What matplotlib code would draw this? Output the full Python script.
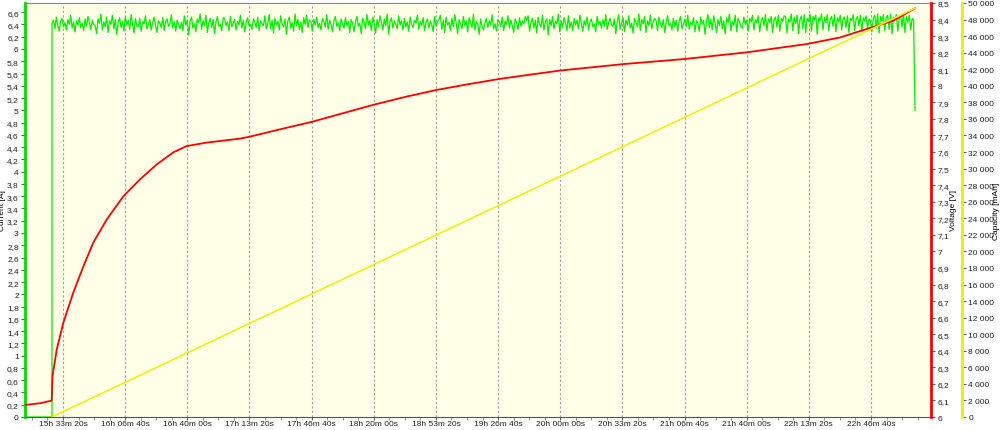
import matplotlib
matplotlib.use("Agg")
import matplotlib.pyplot as plt
from matplotlib.ticker import MultipleLocator, FuncFormatter

# time axis in seconds since midnight
x_start = 54777
x_end = 83932
charge_start = 55646
charge_end = 83418

# current samples during the charge [A]
current_samples = [
    6.41, 6.47, 6.33, 6.52, 6.38, 6.29, 6.45, 6.50, 6.36, 6.43, 6.31, 6.48, 6.40, 6.55, 6.34, 6.44, 6.28, 6.46, 6.39, 6.51, 6.35, 6.42, 6.30, 6.49, 6.37, 6.53, 6.44, 6.32, 6.47, 6.40,
    6.38, 6.25, 6.49, 6.42, 6.57, 6.31, 6.44, 6.36, 6.52, 6.27, 6.46, 6.40, 6.55, 6.33, 6.48, 6.24, 6.43, 6.51, 6.35, 6.45, 6.29, 6.53, 6.39, 6.47, 6.32, 6.56, 6.41, 6.26, 6.50, 6.37,
    6.36, 6.50, 6.29, 6.45, 6.41, 6.54, 6.33, 6.39, 6.48, 6.31, 6.43, 6.52, 6.38, 6.27, 6.46, 6.42, 6.35, 6.51, 6.30, 6.44, 6.49, 6.37, 6.41, 6.56, 6.34, 6.45, 6.29, 6.47, 6.40, 6.33,
    6.44, 6.30, 6.54, 6.39, 6.47, 6.23, 6.45, 6.52, 6.34, 6.41, 6.28, 6.49, 6.43, 6.57, 6.32, 6.46, 6.38, 6.55, 6.27, 6.42, 6.50, 6.35, 6.48, 6.25, 6.44, 6.53, 6.37, 6.40, 6.30, 6.51,
    6.50, 6.38, 6.44, 6.30, 6.53, 6.36, 6.42, 6.48, 6.31, 6.45, 6.39, 6.55, 6.34, 6.47, 6.28, 6.43, 6.51, 6.37, 6.40, 6.32, 6.49, 6.44, 6.35, 6.52, 6.30, 6.46, 6.41, 6.38, 6.54, 6.33,
    6.42, 6.56, 6.33, 6.47, 6.26, 6.50, 6.39, 6.45, 6.31, 6.54, 6.41, 6.36, 6.49, 6.24, 6.46, 6.52, 6.34, 6.43, 6.29, 6.57, 6.38, 6.48, 6.32, 6.44, 6.27, 6.51, 6.40, 6.55, 6.35, 6.47,
    6.45, 6.29, 6.48, 6.39, 6.52, 6.35, 6.42, 6.31, 6.50, 6.44, 6.36, 6.56, 6.32, 6.47, 6.40, 6.28, 6.46, 6.53, 6.37, 6.43, 6.30, 6.49, 6.41, 6.34, 6.51, 6.38, 6.45, 6.27, 6.48, 6.42,
    6.28, 6.45, 6.53, 6.37, 6.42, 6.25, 6.50, 6.44, 6.33, 6.56, 6.39, 6.47, 6.30, 6.52, 6.41, 6.26, 6.48, 6.36, 6.54, 6.43, 6.31, 6.49, 6.38, 6.57, 6.24, 6.45, 6.51, 6.34, 6.46, 6.40,
    6.33, 6.54, 6.39, 6.46, 6.31, 6.50, 6.36, 6.44, 6.29, 6.52, 6.40, 6.35, 6.47, 6.42, 6.55, 6.32, 6.45, 6.38, 6.51, 6.30, 6.43, 6.49, 6.34, 6.46, 6.40, 6.28, 6.53, 6.37, 6.44, 6.48,
    6.55, 6.32, 6.47, 6.27, 6.52, 6.39, 6.44, 6.30, 6.50, 6.36, 6.56, 6.42, 6.25, 6.48, 6.41, 6.33, 6.53, 6.38, 6.46, 6.28, 6.51, 6.43, 6.35, 6.57, 6.31, 6.45, 6.40, 6.24, 6.49, 6.37,
    6.31, 6.42, 6.50, 6.35, 6.46, 6.39, 6.56, 6.33, 6.41, 6.29, 6.48, 6.44, 6.36, 6.52, 6.30, 6.45, 6.40, 6.54, 6.34, 6.47, 6.38, 6.27, 6.49, 6.43, 6.32, 6.51, 6.37, 6.46, 6.41, 6.53,
    6.46, 6.54, 6.29, 6.43, 6.50, 6.34, 6.47, 6.26, 6.52, 6.40, 6.36, 6.55, 6.31, 6.44, 6.49, 6.23, 6.48, 6.38, 6.53, 6.33, 6.45, 6.41, 6.57, 6.28, 6.46, 6.35, 6.51, 6.42, 6.30, 6.54,
    6.35, 6.44, 6.30, 6.50, 6.39, 6.47, 6.33, 6.55, 6.42, 6.29, 6.46, 6.38, 6.52, 6.31, 6.44, 6.49, 6.36, 6.41, 6.28, 6.53, 6.40, 6.45, 6.34, 6.48, 6.37, 6.56, 6.32, 6.43, 6.50, 6.39,
    6.37, 6.49, 6.25, 6.45, 6.56, 6.32, 6.43, 6.51, 6.28, 6.47, 6.39, 6.54, 6.34, 6.42, 6.26, 6.50, 6.44, 6.36, 6.57, 6.30, 6.48, 6.41, 6.53, 6.27, 6.46, 6.38, 6.55, 6.33, 6.45, 6.50,
    6.46, 6.30, 6.52, 6.41, 6.35, 6.48, 6.27, 6.44, 6.54, 6.38, 6.42, 6.31, 6.50, 6.36, 6.47, 6.29, 6.45, 6.53, 6.33, 6.40, 6.49, 6.37, 6.55, 6.32, 6.44, 6.39, 6.51, 6.28, 6.46, 6.42,
    6.29, 6.52, 6.40, 6.47, 6.24, 6.44, 6.56, 6.35, 6.49, 6.31, 6.54, 6.42, 6.27, 6.48, 6.38, 6.53, 6.33, 6.46, 6.25, 6.51, 6.43, 6.57, 6.30, 6.45, 6.39, 6.55, 6.28, 6.50, 6.44, 6.36,
    6.34, 6.52, 6.40, 6.47, 6.29, 6.50, 6.44, 6.55, 6.31, 6.48, 6.42, 6.54, 6.28, 6.46, 6.51, 6.38, 6.56, 6.30, 6.49, 6.43, 6.53, 6.27, 6.47, 6.52, 6.36, 6.55, 6.29, 6.50, 6.45, 6.54,
    6.53, 6.26, 6.49, 6.44, 6.57, 6.30, 6.52, 6.41, 6.55, 6.25, 6.48, 6.54, 6.33, 6.56, 6.27, 6.50, 6.45, 6.57, 6.29, 6.53, 6.47, 6.55, 6.24, 6.51, 6.46, 6.57, 6.31, 6.52, 6.43, 6.56,
    6.30, 6.48, 6.53, 6.37, 6.56, 6.28, 6.51, 6.44, 6.55, 6.31, 6.49, 6.52, 6.35, 6.54, 6.27, 6.50, 6.46, 6.56, 6.30, 6.48, 6.53, 6.38, 6.55, 6.29, 6.51, 6.45, 6.54, 6.33, 6.49, 6.46,
    6.28, 6.50, 6.55, 6.34, 6.57, 6.26, 6.53, 6.46, 6.56, 6.30, 6.51, 6.55, 6.32, 6.57, 6.25, 6.52, 6.48, 6.56, 6.29, 6.50, 6.54, 6.36, 6.57, 6.27, 6.53, 6.44, 6.55, 6.31, 6.50, 6.47,
]
current_end = 5.0

# voltage curve [s], [V]
voltage_t = [54777, 55260, 55636, 55656, 55660, 55797, 56010, 56331, 56653, 56975, 57406, 57940,
             58478, 59015, 59550, 59981, 60624, 61696, 62018, 62983, 64003, 65020, 65985,
             67060, 68026, 68991, 70063, 71134, 71994, 74031, 75962, 78002, 79933, 81005,
             81863, 82720, 83418]
voltage_v = [6.073, 6.083, 6.099, 6.214, 6.244, 6.406, 6.569, 6.751, 6.908, 7.053, 7.192, 7.332,
             7.435, 7.525, 7.598, 7.636, 7.657, 7.681, 7.693, 7.737, 7.782, 7.835, 7.885,
             7.935, 7.975, 8.008, 8.042, 8.070, 8.092, 8.131, 8.161, 8.202, 8.252, 8.292,
             8.343, 8.393, 8.468]

# charged capacity [mAh]
capacity_t = [charge_start, charge_end]
capacity_v = [0, 49360]

# build current trace (fixed logger interval)
step = (charge_end - charge_start) / len(current_samples)
current_t = [x_start, charge_start]
current_a = [0, 0]
for i, c in enumerate(current_samples):
    current_t.append(charge_start + i * step)
    current_a.append(c)
current_t.append(charge_end)
current_a.append(current_end)


def fmt_time(v, pos):
    v = int(round(v))
    return "%dh %02dm %02ds" % (v // 3600, (v % 3600) // 60, v % 60)


def fmt_dec(v, pos):
    return ("%g" % round(v, 1)).replace(".", ",")


def fmt_cap(v, pos):
    return "{:,}".format(int(round(v))).replace(",", " ")


plt.rcParams['font.family'] = ['Liberation Sans', 'DejaVu Sans']
fig = plt.figure(figsize=(10, 4.31), dpi=100)
ax = fig.add_axes([0.025, 13 / 431, 0.906, 414 / 431])
ax.set_facecolor('#FFFEE6')
ax2 = ax.twinx()
ax3 = ax.twinx()

ax.plot(current_t, current_a, color='#00EE00', linewidth=0.9)
ax2.plot(voltage_t, voltage_v, color='#FF0000', linewidth=1.3)
ax3.plot(capacity_t, capacity_v, color='#F2EE00', linewidth=1.1)

ax.set_xlim(x_start, x_end)
ax.set_ylim(0, 6.75)
ax2.set_ylim(6, 8.5)
ax3.set_ylim(0, 50000)

ax.xaxis.set_major_locator(MultipleLocator(2000))
ax.xaxis.set_minor_locator(MultipleLocator(500))
ax.xaxis.set_major_formatter(FuncFormatter(fmt_time))
ax.yaxis.set_major_locator(MultipleLocator(0.2))
ax.yaxis.set_major_formatter(FuncFormatter(fmt_dec))
ax2.yaxis.set_major_locator(MultipleLocator(0.1))
ax2.yaxis.set_major_formatter(FuncFormatter(fmt_dec))
ax3.yaxis.set_major_locator(MultipleLocator(2000))
ax3.yaxis.set_major_formatter(FuncFormatter(fmt_cap))

ax.grid(axis='x', which='major', color='#A0A0A0', linestyle=(0, (2, 2)), linewidth=0.8)
ax.set_axisbelow(True)

for a in (ax, ax2, ax3):
    a.tick_params(labelsize=6, length=3, width=0.8, color='#606060', labelcolor='#222222', pad=1.5)
ax.tick_params(axis='x', which='major', length=2, pad=0.5)
ax.tick_params(axis='x', which='minor', length=2, color='#808080')

for s in ('left', 'top', 'bottom'):
    ax2.spines[s].set_visible(False)
    ax3.spines[s].set_visible(False)
ax.spines['right'].set_visible(False)
ax.spines['left'].set_color('#00DD00')
ax.spines['left'].set_linewidth(2)
ax.spines['top'].set_color('#888888')
ax.spines['bottom'].set_color('#555555')
ax2.spines['right'].set_color('#FF0000')
ax2.spines['right'].set_linewidth(2)
ax3.spines['right'].set_position(('axes', 1.0342))
ax3.spines['right'].set_color('#EEEE00')
ax3.spines['right'].set_linewidth(2)

ax.set_ylabel('Current [A]', fontsize=6)
ax.yaxis.set_label_coords(-0.021, 0.5)
ax2.set_ylabel('Voltage [V]', fontsize=6)
ax2.yaxis.set_label_coords(1.0215, 0.5)
ax3.set_ylabel('Capacity [mAh]', fontsize=6)
ax3.yaxis.set_label_coords(1.068, 0.5)
ax2.yaxis.label.set_rotation(90)
ax3.yaxis.label.set_rotation(90)

fig.savefig('out.png', dpi=100)
